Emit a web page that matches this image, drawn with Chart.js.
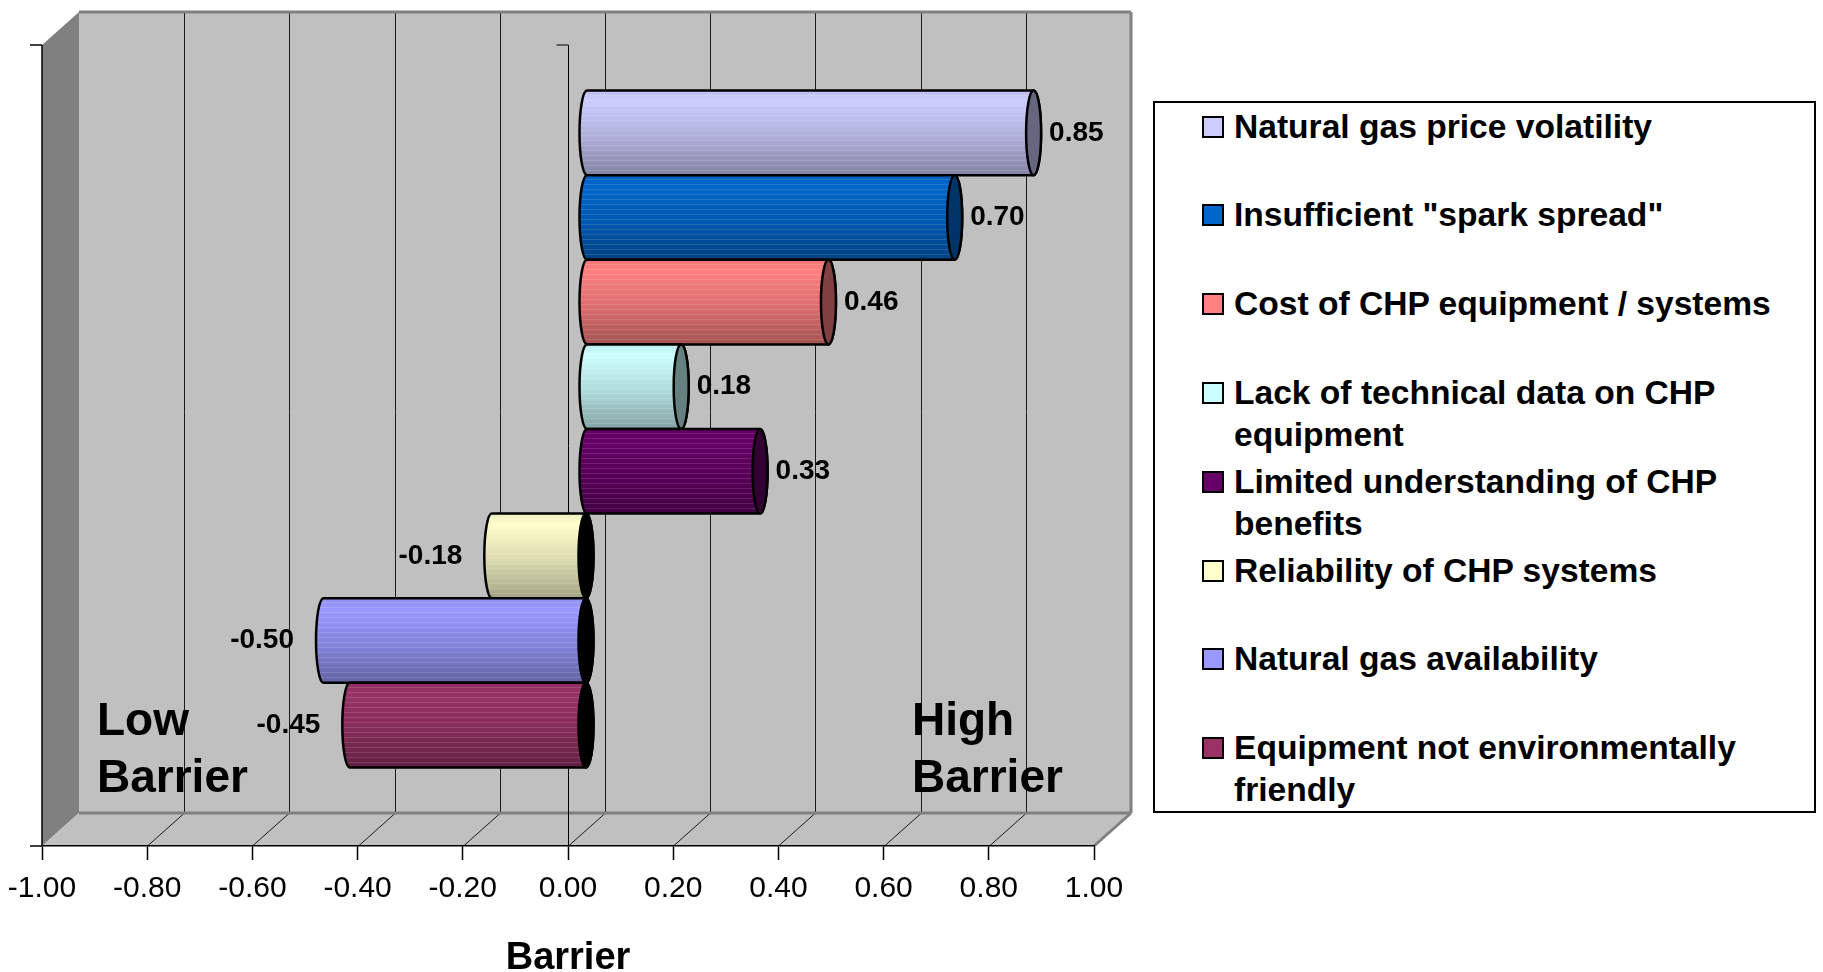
<!DOCTYPE html>
<html>
<head>
<meta charset="utf-8">
<title>CHP barriers</title>
<script src="https://cdn.jsdelivr.net/npm/chart.js@4.4.1/dist/chart.umd.min.js"></script>
<style>
  html, body { margin: 0; padding: 0; background: #fff; }
  #wrap { position: relative; width: 1823px; height: 972px; overflow: hidden;
          font-family: "Liberation Sans", Arial, sans-serif; }
  #chart { position: absolute; left: 0; top: 0; }
  #legend { position: absolute; left: 1153px; top: 101px; width: 663px; height: 712px;
            box-sizing: border-box; border: 2px solid #000; background: #fff; }
  .item { position: absolute; left: 0; width: 100%; }
  .sw { position: absolute; left: 47px; width: 22px; height: 22px; box-sizing: border-box;
        border: 2px solid #000; }
  .tx { position: absolute; left: 79px; width: 565px; font-weight: bold; font-size: 33.6px;
        line-height: 42px; color: #000; white-space: normal; }
</style>
</head>
<body>
<div id="wrap">
  <canvas id="chart" width="1823" height="972"></canvas>
  <div id="legend"></div>
</div>
<script>
// Barrier categories, top to bottom
const categories = [
  'Natural gas price volatility',
  'Insufficient "spark spread"',
  'Cost of CHP equipment / systems',
  'Lack of technical data on CHP equipment',
  'Limited understanding of CHP benefits',
  'Reliability of CHP systems',
  'Natural gas availability',
  'Equipment not environmentally friendly'
];
// Barrier scores (negative = low barrier, positive = high barrier)
const scores = [0.85, 0.70, 0.46, 0.18, 0.33, -0.18, -0.50, -0.45];
const colors = ['#CCCCFF', '#0066CC', '#FF8080', '#CCFFFF', '#660066', '#FFFFCC', '#9999FF', '#993366'];
// Value axis ticks
const tickValues = [-1.0, -0.8, -0.6, -0.4, -0.2, 0.0, 0.2, 0.4, 0.6, 0.8, 1.0];
const axisTitle = 'Barrier';
const lowLabel = ['Low', 'Barrier'];
const highLabel = ['High', 'Barrier'];

const FONT = '"Liberation Sans", Arial, sans-serif';
const DX = 37, DY = -33;   // depth of the 3-D box
const CAP_RX = 7.5;        // half-width of cylinder end ellipse

function fmt(v) { return Math.abs(v) < 1e-9 ? '0.00' : v.toFixed(2); }

function shade(hex, f) {
  const n = parseInt(hex.slice(1), 16);
  const r = Math.min(255, Math.round(((n >> 16) & 255) * f));
  const g = Math.min(255, Math.round(((n >> 8) & 255) * f));
  const b = Math.min(255, Math.round((n & 255) * f));
  return `rgb(${r},${g},${b})`;
}

function line(ctx, x1, y1, x2, y2) {
  ctx.beginPath(); ctx.moveTo(x1, y1); ctx.lineTo(x2, y2); ctx.stroke();
}

function poly(ctx, pts, fill) {
  ctx.beginPath();
  ctx.moveTo(pts[0][0], pts[0][1]);
  for (let i = 1; i < pts.length; i++) ctx.lineTo(pts[i][0], pts[i][1]);
  ctx.closePath();
  ctx.fillStyle = fill; ctx.fill();
}

// Walls, floor, gridlines and axis lines of the 3-D box
const room3d = {
  id: 'room3d',
  beforeDraw(chart) {
    const { ctx, chartArea: a, scales: { x } } = chart;
    const L = a.left, R = a.right, T = a.top, B = a.bottom;
    ctx.save();
    ctx.fillStyle = '#C0C0C0';
    ctx.fillRect(L + DX, T + DY, R - L, B - T);
    poly(ctx, [[L, T], [L + DX, T + DY], [L + DX, B + DY], [L, B]], '#808080');
    poly(ctx, [[L, B], [L + DX, B + DY], [R + DX, B + DY], [R, B]], '#C0C0C0');

    ctx.strokeStyle = '#1a1a1a';
    ctx.lineWidth = 1;
    x.ticks.forEach(t => {
      if (t.value <= -1 || t.value >= 1) return;
      const px = Math.round(x.getPixelForValue(t.value)) + 0.5;
      line(ctx, px + DX, T + DY, px + DX, B + DY);
      line(ctx, px + DX, B + DY, px, B);
    });

    ctx.strokeStyle = '#808080';
    ctx.lineWidth = 3;
    line(ctx, L + DX, T + DY, R + DX, T + DY);
    line(ctx, R + DX, T + DY, R + DX, B + DY);
    line(ctx, L + DX, B + DY, R + DX, B + DY);
    line(ctx, R + DX, B + DY, R, B);

    ctx.strokeStyle = '#000';
    ctx.lineWidth = 1.5;
    line(ctx, L, T, L, B);
    line(ctx, L - 12, T, L, T);
    line(ctx, L - 12, B, L, B);
    const x0 = Math.round(x.getPixelForValue(0)) + 0.5;
    ctx.lineWidth = 1;
    line(ctx, x0, T, x0, B);
    line(ctx, x0 - 12, T, x0, T);
    ctx.restore();
  }
};

function bodyPath(ctx, xl, xr, yc, ry) {
  ctx.beginPath();
  ctx.moveTo(xr, yc - ry);
  ctx.lineTo(xl, yc - ry);
  ctx.ellipse(xl, yc, CAP_RX, ry, 0, -Math.PI / 2, Math.PI / 2, true);
  ctx.lineTo(xr, yc + ry);
  ctx.ellipse(xr, yc, CAP_RX, ry, 0, Math.PI / 2, -Math.PI / 2, true);
  ctx.closePath();
}

function drawCylinder(ctx, xBase, xVal, yc, h, color, negative) {
  const xl = Math.min(xBase, xVal), xr = Math.max(xBase, xVal);
  const ry = h / 2, yt = yc - ry, yb = yc + ry;
  const g = ctx.createLinearGradient(0, yt, 0, yb);
  g.addColorStop(0, shade(color, 0.93));
  g.addColorStop(0.12, shade(color, 1.0));
  g.addColorStop(0.55, shade(color, 0.86));
  g.addColorStop(1, shade(color, 0.64));
  bodyPath(ctx, xl, xr, yc, ry);
  ctx.fillStyle = g;
  ctx.fill();
  // fine banding on the cylinder surface
  ctx.save();
  ctx.clip();
  ctx.strokeStyle = 'rgba(255,255,255,0.13)';
  ctx.lineWidth = 1;
  for (let y = yt + 4; y < yb; y += 5) line(ctx, xl - CAP_RX, Math.round(y) + 0.5, xr + CAP_RX, Math.round(y) + 0.5);
  ctx.restore();
  bodyPath(ctx, xl, xr, yc, ry);
  ctx.lineWidth = 2.5;
  ctx.strokeStyle = '#000';
  ctx.stroke();
  ctx.beginPath();
  ctx.ellipse(xr, yc, CAP_RX, ry, 0, 0, Math.PI * 2);
  ctx.fillStyle = negative ? '#000' : shade(color, 0.5);
  ctx.fill();
  ctx.stroke();
}

// Cylinders, value labels and the Low / High captions
const cylinders = {
  id: 'cylinders',
  beforeDatasetDraw() { return false; },
  afterDatasetsDraw(chart) {
    const { ctx, chartArea: a } = chart;
    ctx.save();
    chart.data.datasets.forEach((ds, i) => {
      const meta = chart.getDatasetMeta(i);
      meta.data.forEach((bar, j) => {
        const v = ds.data[j];
        const p = bar.getProps(['x', 'y', 'base', 'height'], true);
        const xBase = p.base + DX / 2, xVal = p.x + DX / 2, yc = p.y + DY / 2;
        drawCylinder(ctx, xBase, xVal, yc, p.height, ds.backgroundColor, v < 0);
        ctx.fillStyle = '#000';
        ctx.font = `bold 28px ${FONT}`;
        ctx.textBaseline = 'middle';
        if (v >= 0) { ctx.textAlign = 'left'; ctx.fillText(fmt(v), p.x + 34, yc); }
        else { ctx.textAlign = 'right'; ctx.fillText(fmt(v), p.x - 11, yc); }
      });
    });
    ctx.font = `bold 46px ${FONT}`;
    ctx.textAlign = 'left';
    ctx.textBaseline = 'alphabetic';
    ctx.fillStyle = '#000';
    ctx.fillText(lowLabel[0], a.left + 55, a.bottom - 111);
    ctx.fillText(lowLabel[1], a.left + 55, a.bottom - 54);
    ctx.fillText(highLabel[0], a.left + 870, a.bottom - 111);
    ctx.fillText(highLabel[1], a.left + 870, a.bottom - 54);
    ctx.restore();
  }
};

const chart = new Chart(document.getElementById('chart'), {
  type: 'bar',
  data: {
    labels: [''],
    datasets: categories.map((c, i) => ({ label: c, data: [scores[i]], backgroundColor: colors[i] }))
  },
  options: {
    responsive: false,
    animation: false,
    indexAxis: 'y',
    layout: { padding: { left: 42, right: 729, top: 45, bottom: 0 } },
    datasets: { bar: { categoryPercentage: 0.845, barPercentage: 1 } },
    plugins: { legend: { display: false }, tooltip: { enabled: false } },
    scales: {
      x: {
        min: -1, max: 1,
        afterBuildTicks(s) { s.ticks = tickValues.map(v => ({ value: v })); },
        afterFit(s) { s.height = 126; },
        grid: { display: true, drawOnChartArea: false, drawTicks: true, tickLength: 14,
                tickColor: '#000', tickWidth: 1.5 },
        border: { display: true, color: '#000', width: 1.5 },
        ticks: { padding: 6, color: '#000', maxRotation: 0, autoSkip: false,
                 font: { family: FONT, size: 30, lineHeight: 1.5 }, callback: v => fmt(v) },
        title: { display: true, text: axisTitle, color: '#000', padding: 0,
                 font: { family: FONT, size: 38, weight: 'bold', lineHeight: 0.72 } }
      },
      y: { display: false }
    }
  },
  plugins: [room3d, cylinders]
});

// Legend box
const legend = document.getElementById('legend');
categories.forEach((c, i) => {
  const item = document.createElement('div');
  item.className = 'item';
  item.style.top = (2.5 + i * 88.8) + 'px';
  const sw = document.createElement('div');
  sw.className = 'sw';
  sw.style.top = '10px';
  sw.style.background = colors[i];
  const tx = document.createElement('div');
  tx.className = 'tx';
  tx.style.top = '0px';
  tx.textContent = c;
  item.appendChild(sw);
  item.appendChild(tx);
  legend.appendChild(item);
});
</script>
</body>
</html>
